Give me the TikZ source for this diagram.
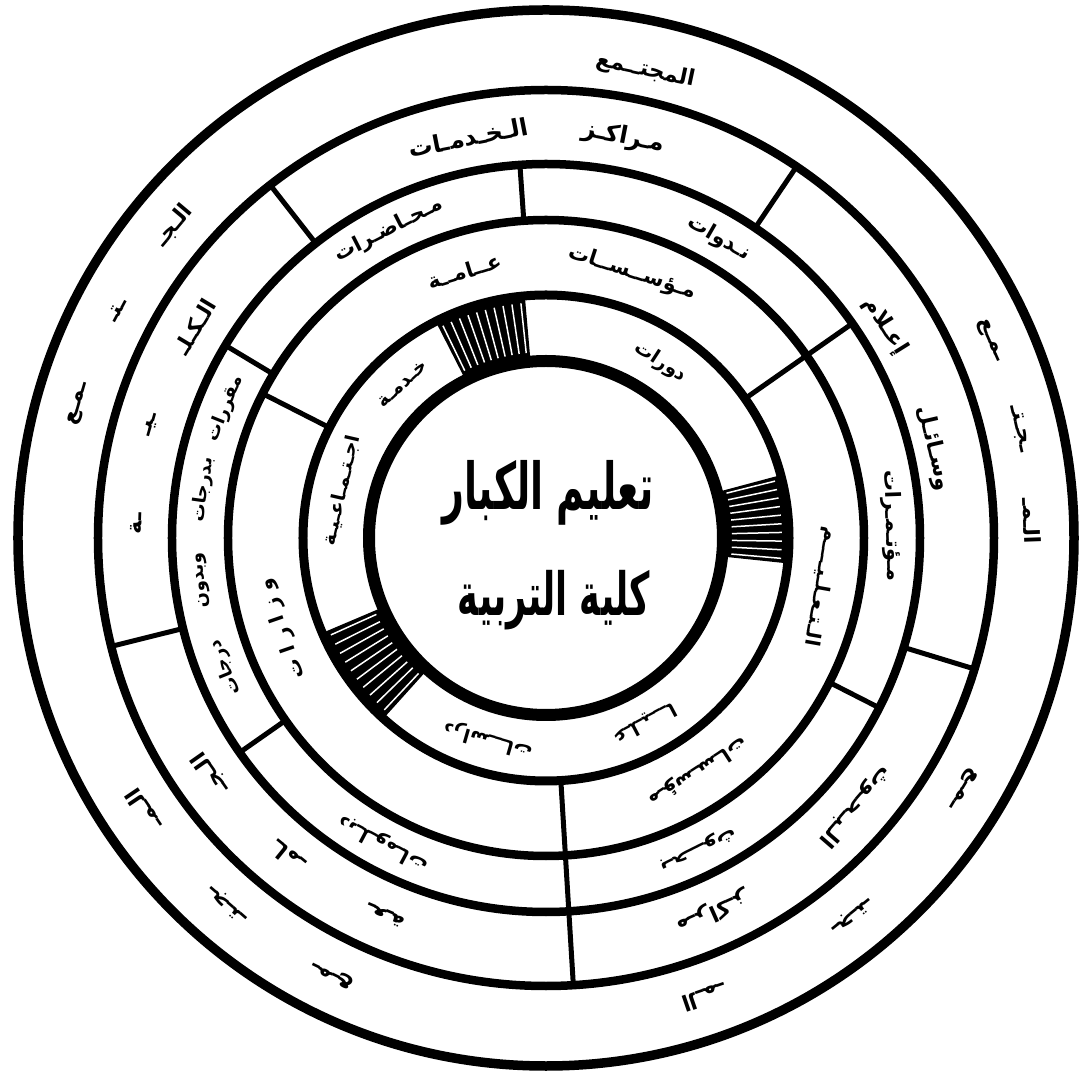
\documentclass[tikz,border=0pt]{standalone}
\usepackage{fontspec}
\newfontfamily\arfont[Script=Arabic]{DejaVu Sans Bold}
\newfontfamily\arcenter[Script=Arabic]{DejaVu Sans Bold}
\TeXXeTstate=1
\tikzset{
  ringline/.style={line width=8.5pt},
  innerline/.style={line width=12pt},
  divider/.style={line width=5pt},
  lbl/.style={inner sep=0pt, font=\arfont},
  stripe/.style={white, line width=1.5pt},
}
% name, angle, radius, size, text
\newcommand\arct[5]{\node[lbl, rotate=#2-90] (#1) at (#2:#3pt) {\fontsize{#4}{#4}\selectfont\beginR #5\endR};}
% name, angle, r1, r2
\newcommand\divline[4]{\coordinate (#1a) at (#2:#3pt); \coordinate (#1b) at (#2:#4pt); \draw[divider] (#1a) -- (#1b);}
% start angle, end angle
\newcommand\hatchbox[2]{%
  \fill (#1:177pt) arc[start angle=#1, end angle=#2, radius=177pt] -- (#2:243pt) arc[start angle=#2, end angle=#1, radius=243pt] -- cycle;
  \foreach \k in {1,...,10} {\draw[stripe] ({#1+(#2-#1)*(\k-0.5)/10}:186pt) -- ({#1+(#2-#1)*(\k-0.5)/10}:236pt);}
}
\begin{document}
\begin{tikzpicture}[x=1pt,y=1pt]
\useasboundingbox (-546,-537) rectangle (538,538);
\fill[white] (-546,-537) rectangle (538,538);

% hatched boxes
\hatchbox{95}{117}
\hatchbox{-6}{15}
\hatchbox{203}{228}

% circles
\draw[line width=9.5pt] (0,0) circle[radius=528pt];
\draw[ringline] (0,0) circle[radius=448pt];
\draw[ringline] (0,0) circle[radius=374pt];
\draw[ringline] (0,0) circle[radius=318pt];
\draw[line width=9pt] (0,0) circle[radius=243pt];
\draw[innerline] (0,0) circle[radius=177pt];

% dividers
\divline{d1}{128}{448}{374}
\divline{d2}{56}{448}{374}
\divline{d3}{94}{374}{318}
\divline{d4}{35}{374}{243}
\divline{d5}{149}{374}{318}
\divline{d6}{153}{318}{243}
\divline{d7}{343}{448}{374}
\divline{d8}{333}{374}{318}
\divline{d9}{273.5}{448}{243}
\divline{d10}{194}{448}{374}
\divline{d11}{215}{374}{318}

% centre
\node[inner sep=0pt, font=\arcenter] (t1) at (2,45) {\scalebox{1}[1.7]{\fontsize{38}{38}\selectfont\beginR تعليم الكبار\endR}};
\node[inner sep=0pt, font=\arcenter] (t2) at (8,-62) {\scalebox{1}[1.7]{\fontsize{35}{35}\selectfont\beginR كلية التربية\endR}};

% outer ring
\arct{o1}{78}{478}{22}{المجتــمع}
\arct{o2a}{140}{486}{22}{الـجـ}
\arct{o2b}{152}{486}{22}{ـتـ}
\arct{o2c}{164}{486}{22}{ـمـع}
\arct{o3a}{2}{486}{22}{الـمـ}
\arct{o3b}{13}{486}{22}{ـجـتـ}
\arct{o3c}{24}{486}{22}{ـمـع}
\arct{o4a}{214}{486}{22}{الـمـ}
\arct{o4b}{229}{486}{22}{ـجـتـ}
\arct{o4c}{244}{486}{22}{ـمـع}
\arct{o5a}{289}{486}{22}{الـمـ}
\arct{o5b}{309}{486}{22}{ـجـتـ}
\arct{o5c}{329}{486}{22}{ـمـع}

% second ring
\arct{m1}{79}{408}{24}{مـراكـز}
\arct{m2}{101}{408}{24}{الـخـدمـات}
\arct{k1}{149}{410}{22}{الـكـلـ}
\arct{k2}{164}{410}{22}{ـيـ}
\arct{k3}{178}{410}{22}{ـة}
\arct{j1}{215}{410}{22}{الـجـ}
\arct{j2}{231}{410}{22}{ـامـ}
\arct{j3}{247}{410}{22}{ـعـة}
\arct{b1}{294}{410}{22}{مـراكـز}
\arct{b2}{319}{410}{22}{الـبـحـوث}
\arct{w1}{13}{398}{22}{وسـائـل}
\arct{w2}{32}{400}{22}{إعـلام}

% third ring
\arct{n1}{60}{346}{21}{نـدوات}
\arct{h1}{117}{346}{21}{مـحـاضـرات}
\arct{c1}{2}{346}{21}{مـؤتـمـرات}
\arct{q1}{158}{346}{18}{مقررات}
\arct{q2}{172}{346}{18}{بدرجات}
\arct{q3}{187}{346}{18}{وبدون}
\arct{q4}{202}{346}{18}{درجات}
\arct{p1}{242}{346}{20}{دبـلـومـات}
\arct{s1}{296}{346}{20}{بـحـــوث}

% fourth ring
\arct{g1}{72}{279}{21}{مـؤســســات}
\arct{g2}{107}{279}{21}{عــامــة}
\node[lbl, rotate=109] (z1) at (199:279pt) {\fontsize{20}{20}\selectfont\beginR و ز ا ر ا ت\endR};
\arct{e1}{303}{279}{20}{مـؤسـسـات}
\arct{e2}{350}{279}{20}{الـتـعـلـيــــم}

% inner ring
\arct{r1}{57}{210}{19}{دورات}
\arct{x1}{133}{210}{19}{خـدمـة}
\arct{x2}{167}{210}{19}{اجـتـمـاعـيـة}
\arct{y1}{254}{210}{19}{دراســـات}
\arct{y2}{298}{210}{19}{عـلـيـــا}
\end{tikzpicture}
\end{document}
